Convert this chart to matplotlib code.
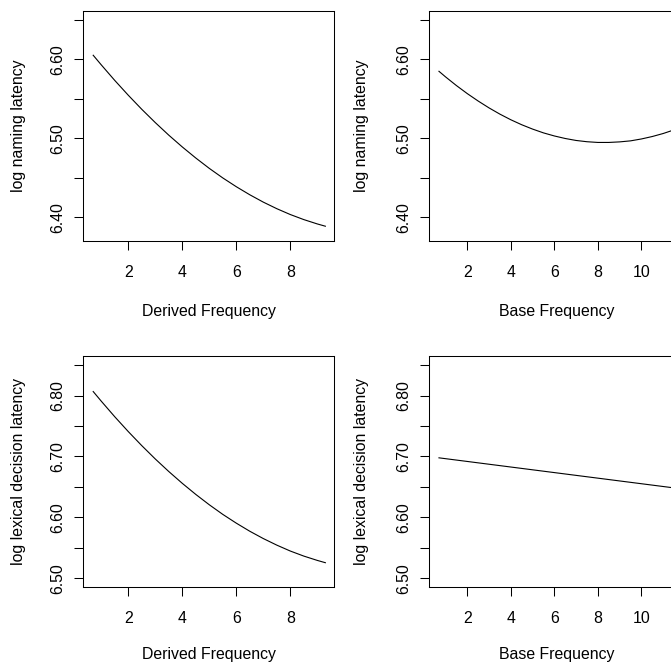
import matplotlib
matplotlib.use("Agg")
import matplotlib.pyplot as plt

plt.rcParams['font.family'] = ['Liberation Sans', 'DejaVu Sans']
plt.rcParams['font.size'] = 11.4

# partial effect curves
derived_x = [0.7, 1.0, 1.5, 2.0, 2.5, 3.0, 3.5, 4.0, 4.5, 5.0,
             5.5, 6.0, 6.5, 7.0, 7.5, 8.0, 8.5, 9.0, 9.3]
naming_derived = [6.6050, 6.5928, 6.5731, 6.5544, 6.5366, 6.5198, 6.5039, 6.4890, 6.4750, 6.4619,
                  6.4498, 6.4387, 6.4285, 6.4192, 6.4109, 6.4035, 6.3971, 6.3916, 6.3887]
lexdec_derived = [6.8066, 6.7907, 6.7651, 6.7408, 6.7177, 6.6958, 6.6752, 6.6558, 6.6376, 6.6206,
                  6.6048, 6.5904, 6.5771, 6.5651, 6.5543, 6.5446, 6.5363, 6.5292, 6.5254]

base_x = [0.7, 1.0, 1.5, 2.0, 2.5, 3.0, 3.5, 4.0, 4.5, 5.0, 5.5, 6.0,
          6.5, 7.0, 7.5, 8.0, 8.5, 9.0, 9.5, 10.0, 10.5, 11.0, 11.5]
naming_base = [6.5847, 6.5777, 6.5667, 6.5565, 6.5471, 6.5384, 6.5305, 6.5234, 6.5171, 6.5116, 6.5068, 6.5029,
               6.4997, 6.4972, 6.4956, 6.4947, 6.4947, 6.4954, 6.4967, 6.4991, 6.5022, 6.5060, 6.5106]
lexdec_base_x = [0.7, 11.5]
lexdec_base = [6.6977, 6.6483]

naming_ticks = [6.40, 6.45, 6.50, 6.55, 6.60, 6.65]
naming_labels = ['6.40', '', '6.50', '', '6.60', '']
lexdec_ticks = [6.50, 6.55, 6.60, 6.65, 6.70, 6.75, 6.80, 6.85]
lexdec_labels = ['6.50', '', '6.60', '', '6.70', '', '6.80', '']

W, H = 671, 663


def place(left, top, right, bottom):
    return [left / W, 1 - bottom / H, (right - left) / W, (bottom - top) / H]


def panel(rect, x, y, xlim, ylim, xticks, yticks, ylabels, xlab, ylab, ylab_x, xlab_y):
    ax = fig.add_axes(rect)
    ax.plot(x, y, color='black', lw=0.8)
    ax.set_xlim(xlim)
    ax.set_ylim(ylim)
    ax.set_xticks(xticks)
    ax.set_yticks(yticks)
    ax.set_yticklabels(ylabels)
    for s in ax.spines.values():
        s.set_linewidth(0.75)
    ax.tick_params(direction='out', length=6.7, width=0.75)
    ax.tick_params(axis='x', pad=10.5)
    ax.tick_params(axis='y', pad=6.0)
    plt.setp(ax.get_yticklabels(), rotation=90, va='center')
    ax.set_xlabel(xlab)
    ax.set_ylabel(ylab)
    ax.xaxis.set_label_coords(0.5, xlab_y)
    ax.yaxis.set_label_coords(ylab_x, 0.5)
    return ax


fig = plt.figure(figsize=(6.71, 6.63), dpi=100)

panel(place(83, 11, 334, 241), derived_x, naming_derived, (0.322, 9.62), (6.370, 6.661),
      [2, 4, 6, 8], naming_ticks, naming_labels,
      'Derived Frequency', 'log naming latency', -0.229, -0.272)
panel(place(429.3, 11, 684.3, 241), base_x, naming_base, (0.256, 11.97), (6.370, 6.661),
      [2, 4, 6, 8, 10], naming_ticks, naming_labels,
      'Base Frequency', 'log naming latency', -0.238, -0.272)
panel(place(83, 356, 334, 587.3), derived_x, lexdec_derived, (0.322, 9.62), (6.485, 6.865),
      [2, 4, 6, 8], lexdec_ticks, lexdec_labels,
      'Derived Frequency', 'log lexical decision latency', -0.229, -0.258)
panel(place(429.3, 356, 684.3, 587.3), lexdec_base_x, lexdec_base, (0.256, 11.97), (6.485, 6.865),
      [2, 4, 6, 8, 10], lexdec_ticks, lexdec_labels,
      'Base Frequency', 'log lexical decision latency', -0.238, -0.258)

fig.savefig('out.png', dpi=100)
